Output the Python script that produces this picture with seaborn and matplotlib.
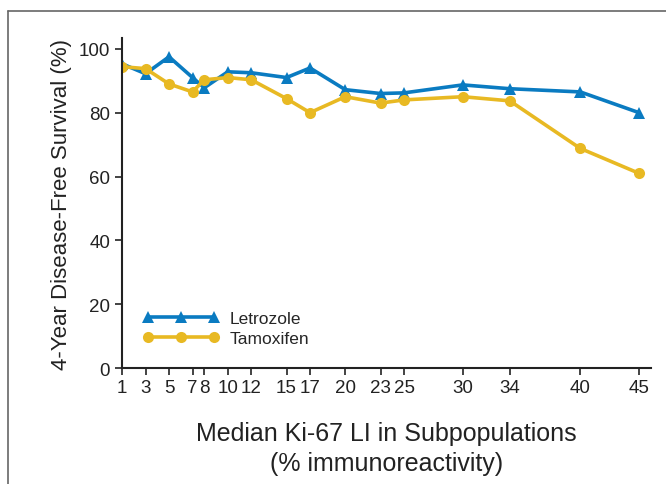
import numpy as np
import matplotlib
matplotlib.use("Agg")
import matplotlib.pyplot as plt
import pandas as pd
import seaborn as sns
from matplotlib.lines import Line2D

# median Ki-67 per subpopulation (x) and 4-year DFS (%)
ki67 = [1, 3, 5, 7, 8, 10, 12, 15, 17, 20, 23, 25, 30, 34, 40, 45]
letrozole = [95.3, 92.2, 97.5, 91.0, 87.8, 92.8, 92.5, 91.0, 94.0, 87.2, 86.0, 86.2, 88.7, 87.5, 86.5, 80.0]
tamoxifen = [94.4, 93.8, 89.0, 86.5, 90.3, 91.0, 90.3, 84.4, 80.0, 85.0, 83.0, 84.0, 85.0, 83.7, 68.8, 61.0]
yticks = [0, 20, 40, 60, 80, 100]

df = pd.DataFrame({
    "ki67": ki67 * 2,
    "dfs": letrozole + tamoxifen,
    "arm": ["Letrozole"] * len(ki67) + ["Tamoxifen"] * len(ki67),
})

sns.set_style("ticks")
plt.rcParams["font.family"] = ["Liberation Sans", "DejaVu Sans"]
narrow = ["Liberation Sans Narrow", "Liberation Sans", "DejaVu Sans"]

fig = plt.figure(figsize=(6.66, 4.85), dpi=100)
ax = fig.add_axes([0.1832, 0.239, 0.794, 0.680])

pal = {"Letrozole": "#0a7bc1", "Tamoxifen": "#e8b923"}
sns.lineplot(data=df, x="ki67", y="dfs", hue="arm", style="arm",
             markers={"Letrozole": "^", "Tamoxifen": "o"}, dashes=False,
             palette=pal, linewidth=2.6, markersize=8, markeredgewidth=0,
             ax=ax)

ax.set_xlim(1, 46)
ax.set_ylim(0, 103.3)
ax.set_xticks(ki67)
ax.set_xticklabels([str(v) for v in ki67])
ax.set_yticks(yticks)
sns.despine(ax=ax)
for s in ["left", "bottom"]:
    ax.spines[s].set_linewidth(1.5)
    ax.spines[s].set_color("#222222")
ax.tick_params(axis="both", direction="out", length=5, width=1.2,
               colors="#222222", labelsize=13.5, labelcolor="#222222")
ax.tick_params(axis="x", pad=3)

ax.set_xlabel("Median Ki-67 LI in Subpopulations\n(% immunoreactivity)",
              fontsize=18, family=narrow, color="#222222", labelpad=18,
              linespacing=1.3)
ax.set_ylabel("4-Year Disease-Free Survival (%)", fontsize=16,
              family=narrow, color="#222222", labelpad=5)

h, l = ax.get_legend_handles_labels()
ax.legend(h, l, loc="center left", bbox_to_anchor=(0.01, 0.12),
          frameon=False, numpoints=3, handlelength=4.4, fontsize=12.5,
          labelspacing=0.3, handletextpad=0.6)

# frame edges of the source panel
fig.add_artist(Line2D([0.012, 1.0], [0.975, 0.975], color="#666666", lw=1.2))
fig.add_artist(Line2D([0.012, 0.012], [0.0, 0.975], color="#666666", lw=1.2))

fig.savefig("out.png", dpi=100)
